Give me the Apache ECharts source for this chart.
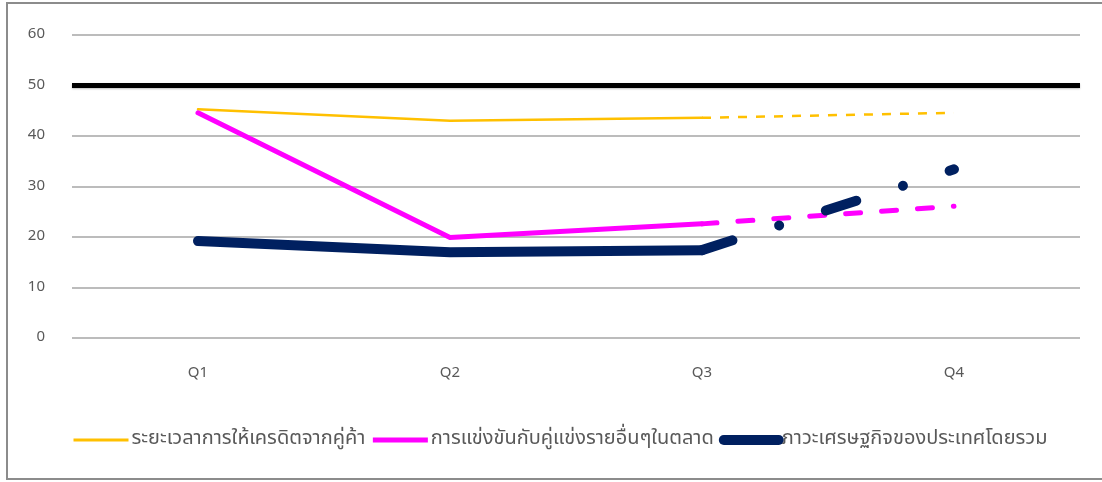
<!DOCTYPE html>
<html><head><meta charset="utf-8">
<script src="https://cdn.jsdelivr.net/npm/echarts@6/dist/echarts.min.js"></script>
<style>
html,body{margin:0;padding:0;background:#fff;overflow:hidden;}
#chart{position:absolute;left:0;top:0;width:1102px;height:482px;}
#frame{position:absolute;left:6px;top:2px;width:1120px;height:478px;border:2px solid #8c8c8c;box-sizing:border-box;pointer-events:none;}
</style></head><body>
<div id="chart"></div>
<div id="frame"></div>
<script>
const categories = ['Q1', 'Q2', 'Q3', 'Q4'];
const seriesNames = [
  'ระยะเวลาการให้เครดิตจากคู่ค้า',
  'การแข่งขันกับคู่แข่งรายอื่นๆในตลาด',
  'ภาวะเศรษฐกิจของประเทศโดยรวม'
];
const creditTerm = [45.3, 43.0, 43.6, 44.6];
const competition = [44.6, 19.9, 22.6, 26.1];
const economy = [19.2, 17.0, 17.4, 33.4];
const thresholdValue = 50;
const yMin = 0, yMax = 60, yInterval = 10;
const lastActualIndex = 2; // Q3 is the last actual value; Q3->Q4 is projected

const colors = ['#FFC000', '#FF00FF', '#002060'];
const widths = [2.5, 5, 10];
const dashes = [[9, 9], [15, 21], [32, 49, 0.01, 49]];
const caps = ['butt', 'round', 'round'];
const values = [creditTerm, competition, economy];

const fontFam = 'Tahoma, "Noto Sans Thai", "Noto Sans", "DejaVu Sans", sans-serif';

const series = [];
values.forEach((arr, k) => {
  series.push({
    name: seriesNames[k], type: 'line', symbol: 'none', z: 2 + k,
    data: arr.map((v, i) => i <= lastActualIndex ? v : null),
    lineStyle: { color: colors[k], width: widths[k], cap: 'round', join: 'round' },
    itemStyle: { color: colors[k] },
    emphasis: { disabled: true }, silent: true
  });
  series.push({
    name: seriesNames[k], type: 'line', symbol: 'none', z: 2 + k,
    data: arr.map((v, i) => i >= lastActualIndex ? v : null),
    lineStyle: { color: colors[k], width: widths[k], type: dashes[k], cap: caps[k], join: 'round' },
    itemStyle: { color: colors[k] },
    emphasis: { disabled: true }, silent: true
  });
});
series[0].markLine = {
  silent: true, symbol: 'none', animation: false,
  label: { show: false },
  lineStyle: { color: '#000', width: 5, type: 'solid', shadowColor: 'rgba(0,0,0,0.25)', shadowBlur: 2, shadowOffsetY: 1 },
  data: [{ yAxis: thresholdValue }]
};

const chart = echarts.init(document.getElementById('chart'), null, { renderer: 'canvas' });
chart.setOption({
  animation: false,
  textStyle: { fontFamily: fontFam },
  grid: { left: 72, top: 35, width: 1008, height: 303, containLabel: false },
  xAxis: {
    type: 'category', data: categories, boundaryGap: true,
    axisLine: { show: false }, axisTick: { show: false },
    axisLabel: { color: '#595959', fontSize: 15, margin: 28, fontFamily: fontFam }
  },
  yAxis: {
    type: 'value', min: yMin, max: yMax, interval: yInterval,
    axisLine: { show: false }, axisTick: { show: false },
    axisLabel: { color: '#595959', fontSize: 15, margin: 27, fontFamily: fontFam },
    splitLine: { lineStyle: { color: '#a6a6a6', width: 1.5 } }
  },
  legend: {
    left: 72, top: 430, padding: 0, itemWidth: 55, itemHeight: 14, itemGap: 5,
    selectedMode: false,
    textStyle: { color: '#595959', fontSize: 20, fontFamily: fontFam, padding: [0, 0, 0, -2] },
    data: seriesNames.map((n, k) => ({
      name: n,
      itemStyle: { opacity: 0 },
      lineStyle: { color: colors[k], width: k === 2 ? 10 : (k === 1 ? 5 : 3), cap: k === 2 ? 'round' : 'butt', type: 'solid' }
    }))
  },
  series: series
});
</script>
</body></html>
